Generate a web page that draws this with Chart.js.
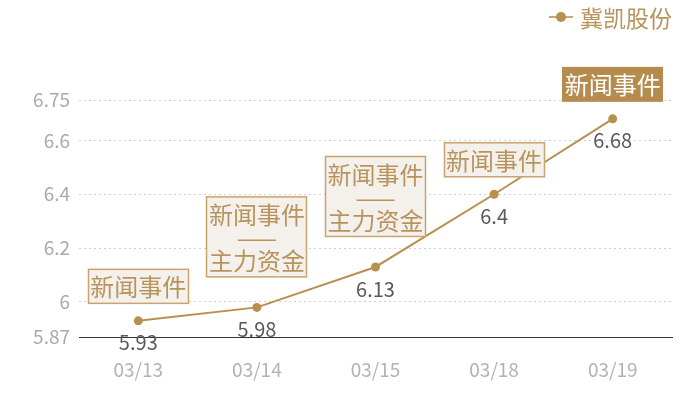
<!DOCTYPE html>
<html>
<head>
<meta charset="utf-8">
<script src="https://cdn.jsdelivr.net/npm/chart.js@4/dist/chart.umd.min.js"></script>
<style>
  html,body{margin:0;padding:0;background:#fff;}
  #wrap{width:700px;height:400px;position:relative;}
</style>
</head>
<body>
<div id="wrap"><canvas id="c" width="700" height="400"></canvas></div>
<script>
// data
const seriesName = '冀凯股份';
const dates = ['03/13', '03/14', '03/15', '03/18', '03/19'];
const prices = [5.93, 5.98, 6.13, 6.4, 6.68];
const yTicks = [5.87, 6, 6.2, 6.4, 6.6, 6.75];
const events = [
    ['新闻事件'],
    ['新闻事件', '——', '主力资金'],
    ['新闻事件', '——', '主力资金'],
    ['新闻事件'],
    ['新闻事件']
];
const highlight = [false, false, false, false, true];

const GOLD = '#b8904e', TEXT_GOLD = '#b8945c';
const FONT = '"Noto Sans CJK SC", "Noto Sans", sans-serif';

// boxes above points + values below + legend
const labelsPlugin = {
    id: 'labels',
    afterDatasetsDraw(chart){
        const ctx = chart.ctx, pts = chart.getDatasetMeta(0).data;
        ctx.save();
        ctx.textAlign = 'center';
        ctx.textBaseline = 'middle';
        pts.forEach((p, i)=>{
            // value
            ctx.font = '20px ' + FONT;
            ctx.fillStyle = '#595959';
            ctx.fillText(String(prices[i]), p.x, p.y + 22);
            // event box
            const lines = events[i], lh = 23, pad = 6, w = 101;
            const h = lines.length*lh + pad*2;
            const bottom = p.y - (lines.length > 1 ? 30 : 17);
            const top = bottom - h, left = Math.round(p.x - w/2);
            ctx.fillStyle = highlight[i] ? '#b58c4d' : '#f4f1ec';
            ctx.fillRect(left, top, w, h);
            if(!highlight[i]){
                ctx.strokeStyle = '#c9a46e';
                ctx.lineWidth = 1.5;
                ctx.strokeRect(left + 0.5, top + 0.5, w - 1, h - 1);
            }
            ctx.font = '24px ' + FONT;
            ctx.fillStyle = highlight[i] ? '#ffffff' : TEXT_GOLD;
            lines.forEach((t, k)=>ctx.fillText(t, p.x, top + pad + lh*k + lh/2 + 1));
        });
        // legend
        ctx.strokeStyle = '#c8a878';
        ctx.lineWidth = 2;
        ctx.beginPath(); ctx.moveTo(549, 17); ctx.lineTo(573, 17); ctx.stroke();
        ctx.fillStyle = GOLD;
        ctx.beginPath(); ctx.arc(561, 17, 5, 0, Math.PI*2); ctx.fill();
        ctx.textAlign = 'left';
        ctx.font = '23px ' + FONT;
        ctx.fillStyle = TEXT_GOLD;
        ctx.fillText(chart.data.datasets[0].label, 580, 18);
        ctx.restore();
    }
};

new Chart(document.getElementById('c'), {
    type: 'line',
    data: {
        labels: dates,
        datasets: [{
            label: seriesName,
            data: prices,
            borderColor: GOLD,
            backgroundColor: GOLD,
            borderWidth: 2,
            pointRadius: 4.5,
            pointBorderWidth: 0,
            pointHoverRadius: 4.5,
            tension: 0
        }]
    },
    options: {
        responsive: false,
        animation: false,
        devicePixelRatio: 1,
        layout: {padding: {top: 100, right: 28, left: 0, bottom: 0}},
        plugins: {legend: {display: false}, tooltip: {enabled: false}},
        scales: {
            x: {
                offset: true,
                grid: {display: false, drawTicks: false},
                border: {display: true, color: '#333', width: 1},
                ticks: {color: '#b3b3b3', font: {size: 19, family: FONT}, padding: 21},
                afterFit(s){ s.height = 63; }
            },
            y: {
                min: yTicks[0],
                max: yTicks[yTicks.length - 1],
                afterBuildTicks(s){ s.ticks = yTicks.map(v=>({value: v})); },
                grid: {color: '#cfcfcf', drawTicks: false, lineWidth: 1},
                border: {display: false, dash: [2, 3]},
                ticks: {color: '#aaaaaa', font: {size: 19, family: FONT}, padding: 9, callback: v=>String(v)},
                afterFit(s){ s.width = 79; }
            }
        }
    },
    plugins: [labelsPlugin]
});
</script>
</body>
</html>
